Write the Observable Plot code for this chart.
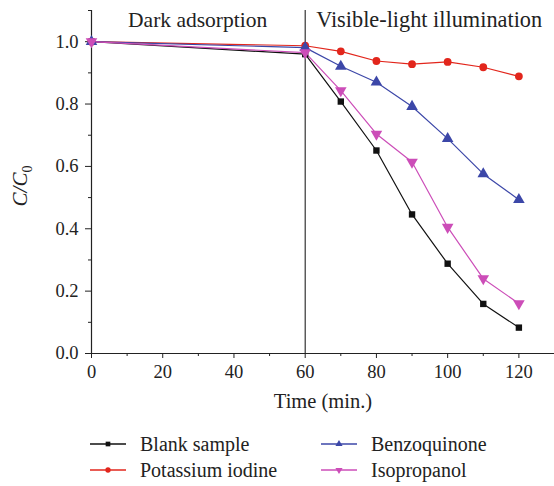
<!DOCTYPE html>
<html>
<head>
<meta charset="utf-8">
<script src="https://cdn.jsdelivr.net/npm/d3@7"></script>
<script src="https://cdn.jsdelivr.net/npm/@observablehq/plot@0.6"></script>
<style>
  body { margin: 0; background: #fff; }
  #chart { width: 554px; position: relative; }
  #chart svg, #chart svg text { font-family: "Liberation Serif", "Times New Roman", serif !important; }
  .legend { position: relative; height: 66px; font-family: "Liberation Serif", serif; font-size: 20px; color: #222; }
  .item { position: absolute; display: flex; align-items: center; white-space: nowrap; }
  .item svg { margin-right: 14px; }
</style>
</head>
<body>
<div id="chart"></div>
<script>
const times = [0, 60, 70, 80, 90, 100, 110, 120];
const seriesNames = ["Blank sample", "Potassium iodine", "Benzoquinone", "Isopropanol"];
const blank = [1.0, 0.96, 0.808, 0.651, 0.446, 0.288, 0.159, 0.083];
const potassium = [1.0, 0.987, 0.969, 0.938, 0.928, 0.935, 0.918, 0.889];
const benzo = [1.0, 0.981, 0.921, 0.870, 0.792, 0.689, 0.576, 0.493];
const isoprop = [1.0, 0.965, 0.843, 0.704, 0.614, 0.405, 0.240, 0.160];
const colors = ["#111111", "#e2261c", "#3c47a8", "#cc4db8"];
const xTicks = [0, 20, 40, 60, 80, 100, 120];
const xMinor = [10, 30, 50, 70, 90, 110];
const yTicks = [0, 0.2, 0.4, 0.6, 0.8, 1.0];
const yMinor = [0.1, 0.3, 0.5, 0.7, 0.9, 1.1];
const phases = [{x: 29.8, label: "Dark adsorption", size: 21.5}, {x: 94.8, label: "Visible-light illumination", size: 22.3}];

const FONT = "'Liberation Serif', 'Times New Roman', serif";

const triangleDown = {
  draw(context, size) {
    const y = -Math.sqrt(size / (Math.sqrt(3) * 3));
    context.moveTo(0, -2 * y);
    context.lineTo(-Math.sqrt(3) * y, y);
    context.lineTo(Math.sqrt(3) * y, y);
    context.closePath();
  }
};
const symbols = ["square", "circle", "triangle", triangleDown];

const allValues = [blank, potassium, benzo, isoprop];
const data = [];
allValues.forEach((vals, s) => vals.forEach((v, i) => data.push({series: seriesNames[s], t: times[i], c: v, s})));

const rSizes = [3.6, 3.9, 4.3, 4.3];
const marks = [
  Plot.ruleX([60], {y1: 0, y2: 1.1, stroke: "#222", strokeWidth: 1.1}),
  Plot.ruleX([0], {y1: 0, y2: 1.1, stroke: "#222", strokeWidth: 1.2}),
  Plot.ruleY([0], {x1: 0, x2: 130, stroke: "#222", strokeWidth: 1.2}),
  Plot.axisX({ticks: xTicks, tickSize: 5, tickPadding: 6, label: null, fontSize: 18.5, fontFamily: FONT, stroke: "#222", fill: "#222"}),
  Plot.axisX({ticks: xMinor, tickSize: 3, text: null, label: null, stroke: "#222"}),
  Plot.axisY({ticks: yTicks, tickSize: 6, tickPadding: 7, tickFormat: d3.format(".1f"), label: null, fontSize: 18.5, fontFamily: FONT, stroke: "#222", fill: "#222"}),
  Plot.axisY({ticks: yMinor, tickSize: 3, text: null, label: null, stroke: "#222"})
];
phases.forEach(p => marks.push(Plot.text([p], {x: "x", y: 1.07, text: "label", fontSize: p.size, fontFamily: FONT, fill: "#222"})));
seriesNames.forEach((name, s) => {
  const d = data.filter(r => r.s === s);
  marks.push(Plot.line(d, {x: "t", y: "c", stroke: colors[s], strokeWidth: 1.2}));
});
seriesNames.forEach((name, s) => {
  const d = data.filter(r => r.s === s);
  marks.push(Plot.dot(d, {x: "t", y: "c", fill: colors[s], stroke: "none", symbol: () => symbols[s], r: rSizes[s]}));
});
marks.push(Plot.text(["Time (min.)"], {frameAnchor: "bottom", dy: 54, text: d => d, fontSize: 20.5, fontFamily: FONT, fill: "#222"}));

const plot = Plot.plot({
  width: 554,
  height: 422,
  marginLeft: 91,
  marginRight: 0,
  marginTop: 10,
  marginBottom: 69,
  style: {fontFamily: FONT, color: "#222", background: "#fff"},
  x: {domain: [0, 130]},
  y: {domain: [0, 1.1]},
  symbol: {type: "identity"},
  marks
});
document.getElementById("chart").appendChild(plot);

// rotated y label with italic C/C and subscript 0
const svg = d3.select(plot);
const yl = svg.append("text")
  .attr("transform", "translate(27,186) rotate(-90)")
  .attr("text-anchor", "middle")
  .attr("font-size", 21)
  .attr("fill", "#222")
  .attr("font-family", FONT);
yl.append("tspan").attr("font-style", "italic").text("C/C");
yl.append("tspan").attr("font-size", 14).attr("dy", 5).text("0");

// legend
const legend = d3.select("#chart").append("div").attr("class", "legend");
const positions = [[90, 22], [90, 48], [321, 22], [321, 48]];
seriesNames.forEach((name, s) => {
  const item = legend.append("div").attr("class", "item")
    .style("left", positions[s][0] + "px").style("top", (positions[s][1] - 12) + "px");
  const sw = item.append("svg").attr("width", 36).attr("height", 24);
  sw.append("line").attr("x1", 0).attr("x2", 36).attr("y1", 12).attr("y2", 12)
    .attr("stroke", colors[s]).attr("stroke-width", 1.6);
  const sym = typeof symbols[s] === "string" ? {square: d3.symbolSquare, circle: d3.symbolCircle, triangle: d3.symbolTriangle}[symbols[s]] : symbols[s];
  sw.append("path").attr("transform", "translate(18,12)")
    .attr("d", d3.symbol(sym, 22)()).attr("fill", colors[s]);
  item.append("span").text(name);
});
</script>
</body>
</html>
